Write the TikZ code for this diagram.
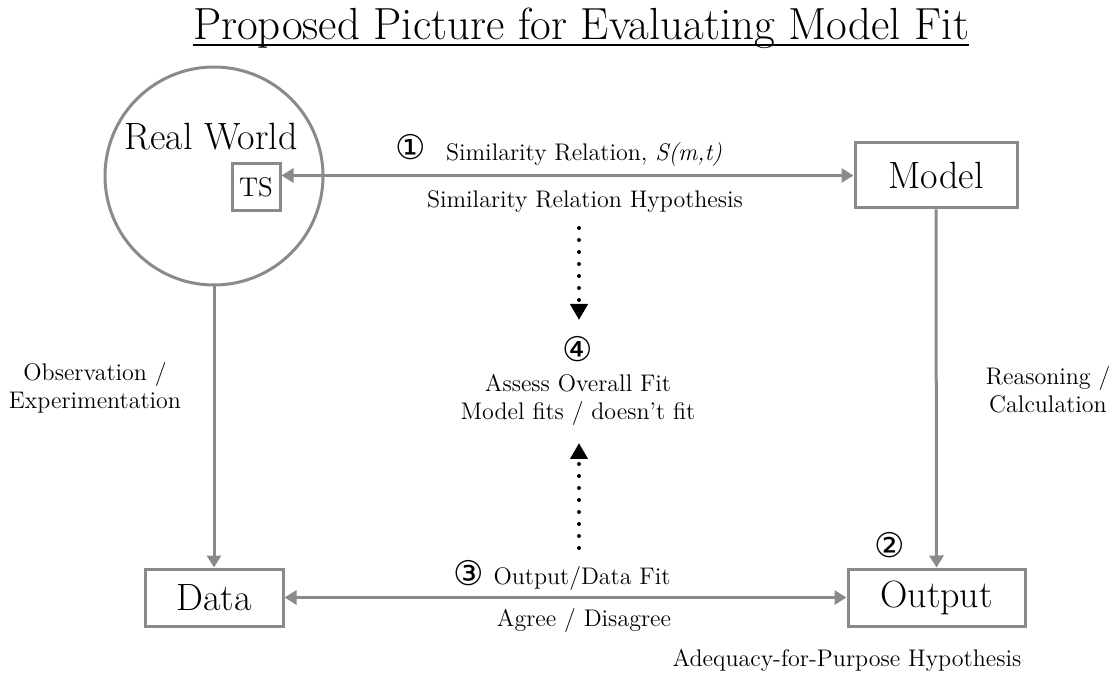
\documentclass[tikz,border=0pt]{standalone}
\usepackage{fontspec}
\newfontfamily\symfont{DejaVu Sans}
\usetikzlibrary{arrows.meta}
\definecolor{lg}{HTML}{8A8A8A}
\begin{document}
\begin{tikzpicture}[x=0.5pt,y=-0.5pt,
  gline/.style={draw=lg,line width=1.5pt},
  garrow/.style={gline,-{Triangle[length=6pt,width=7pt]}},
  gboth/.style={gline,{Triangle[length=6pt,width=7pt]}-{Triangle[length=6pt,width=7pt]}},
  dotarrow/.style={line width=2pt,line cap=round,dash pattern=on 0pt off 6pt,-{Triangle[length=8pt,width=8.5pt]}},
  box/.style={draw=lg,line width=1.5pt,inner sep=0pt,font=\fontsize{19}{21}\selectfont},
  lbl/.style={font=\fontsize{12}{14}\selectfont,align=center,inner sep=0pt},
  num/.style={font=\symfont\fontsize{17}{17}\selectfont,inner sep=0pt}]
\useasboundingbox (0,0) rectangle (1119,673);
% title
\node[font=\fontsize{22.5}{26}\selectfont,anchor=base,inner sep=0pt] (title) at (581,40) {Proposed Picture for Evaluating Model Fit};
\draw[line width=1pt] ([yshift=-2.5pt]title.base west) -- ([yshift=-2.5pt]title.base east);
% nodes
\node[circle,draw=lg,line width=1.5pt,minimum size=109pt,inner sep=0pt] (rw) at (214,176) {};
\node[font=\fontsize{19}{21}\selectfont,inner sep=0pt] (rwl) at (211,137) {Real World};
\node[box,minimum width=24pt,minimum height=23.5pt,font=\fontsize{13.5}{15}\selectfont] (ts) at (256,187) {TS};
\node[box,minimum width=81pt,minimum height=32.5pt] (model) at (936,175.5) {Model};
\node[box,minimum width=88.5pt,minimum height=28.5pt] (output) at (936.5,597.5) {Output};
\node[box,minimum width=69pt,minimum height=28.5pt] (data) at (214,597.5) {Data};
% connectors
\draw[gboth] (model.west -| ts.east) -- (model.west);
\draw[gboth] (data.east) -- (output.west);
\draw[garrow] (rw.south) -- (data.north);
\draw[garrow] (model.south) -- (output.north);
% labels
\node[num] (n1) at (411,147) {①};
\node[lbl] (sim) at (584,155) {Similarity Relation, \textit{S(m,t)}};
\node[lbl] (hyp) at (585,202) {Similarity Relation Hypothesis};
\node[num] (n4) at (578,349) {④};
\node[lbl] (assess) at (578,400) {Assess Overall Fit\\Model fits / doesn’t fit};
\node[num] (n3) at (469,573) {③};
\node[lbl] (odfit) at (582,578) {Output/Data Fit};
\node[lbl] (agree) at (584,620) {Agree / Disagree};
\node[num] (n2) at (890,545) {②};
\node[lbl] (obs) at (95,388) {Observation /\\Experimentation};
\node[lbl] (reas) at (1048,390) {Reasoning /\\Calculation};
\node[lbl] (adeq) at (847,660) {Adequacy-for-Purpose Hypothesis};
% dotted arrows
\coordinate (d1s) at (579,228);
\coordinate (d1e) at (579,320);
\coordinate (d2s) at (579,548);
\coordinate (d2e) at (579,443);
\draw[dotarrow] (d1s) -- (d1e);
\draw[dotarrow] (d2s) -- (d2e);
\end{tikzpicture}
\end{document}
